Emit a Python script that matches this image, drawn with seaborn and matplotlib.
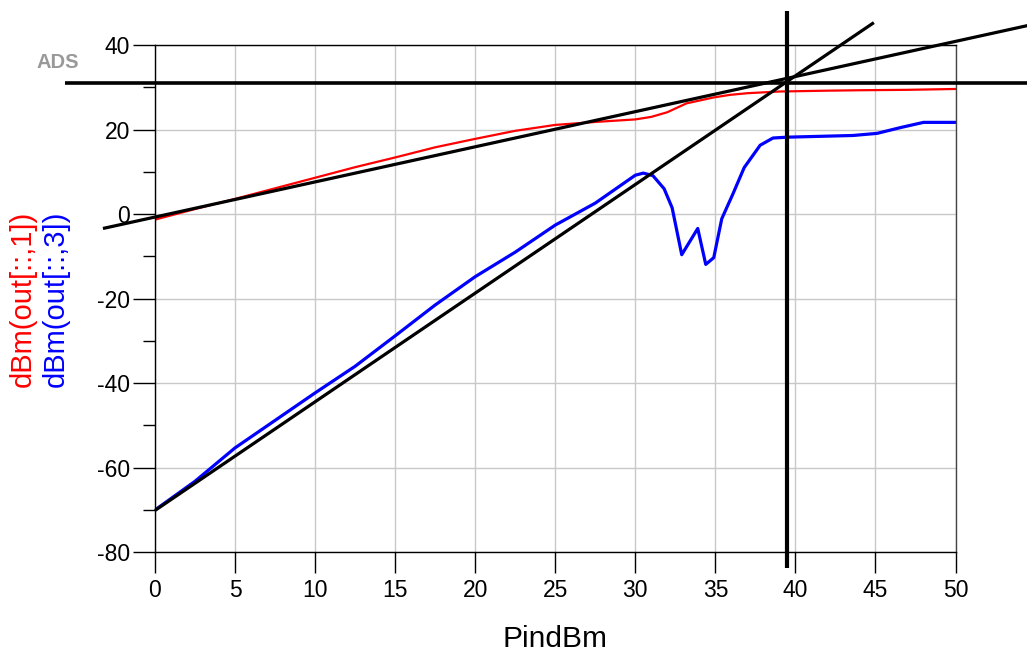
import matplotlib
matplotlib.use("Agg")
import matplotlib.pyplot as plt
from matplotlib.ticker import MultipleLocator
import seaborn as sns
import pandas as pd

# ---- data ----
red_pin = [0, 2.5, 5, 7.5, 10, 12.5, 15, 17.5, 20, 22.5, 25, 27.5, 30, 31, 32,
           33.2, 34.9, 35.9, 37, 39, 42, 44, 47, 50]
red_dbm = [-1.3, 1.2, 3.6, 6.1, 8.6, 11.1, 13.4, 15.8, 17.8, 19.7, 21.1, 21.8, 22.4,
           23.0, 24.1, 26.2, 27.6, 28.2, 28.6, 29.0, 29.2, 29.3, 29.4, 29.6]

blue_pin = [0, 2.5, 5, 7.5, 10, 12.5, 15, 17.5, 20, 22.5, 25, 27.5, 30, 30.5, 31.1,
            31.8, 32.3, 32.9, 33.9, 34.4, 34.9, 35.4, 36.1, 36.8, 37.8, 38.6, 39.5,
            43.6, 45.1, 46.6, 48, 50]
blue_dbm = [-70, -63.2, -55.3, -48.8, -42.3, -36, -28.8, -21.5, -14.8, -9, -2.6, 2.6,
            9.2, 9.7, 9.1, 6.0, 1.5, -9.6, -3.4, -11.9, -10.3, -1.1, 4.8, 11.0, 16.3,
            18.0, 18.2, 18.6, 19.1, 20.5, 21.7, 21.7]

# extrapolated (tangent) lines and markers
fund_line_x = [-3.25, 54.5]
fund_line_y = [-3.4, 44.6]
im3_line_x = [0, 44.9]
im3_line_y = [-70.1, 45.3]
hline_y = 31.0
hline_x = [-5.6, 54.5]
vline_x = 39.5
vline_y = [-83.8, 48.1]

x_ticks = [0, 5, 10, 15, 20, 25, 30, 35, 40, 45, 50]
y_ticks = [-80, -60, -40, -20, 0, 20, 40]

sns.set_theme(style="white")
plt.rcParams['font.family'] = ['Liberation Sans', 'DejaVu Sans']
plt.rcParams['axes.unicode_minus'] = False

fig = plt.figure(figsize=(10.27, 6.59), dpi=100)
ax = fig.add_axes([0.1509, 0.1619, 0.9304 - 0.1509, 0.9317 - 0.1619])

df_red = pd.DataFrame({"PindBm": red_pin, "val": red_dbm})
df_blue = pd.DataFrame({"PindBm": blue_pin, "val": blue_dbm})

sns.lineplot(data=df_red, x="PindBm", y="val", color="#ff0000", linewidth=1.6,
             ax=ax, estimator=None, sort=False)
sns.lineplot(data=df_blue, x="PindBm", y="val", color="#0000ff", linewidth=2.3,
             ax=ax, estimator=None, sort=False)

ax.plot(fund_line_x, fund_line_y, color="black", linewidth=2.3, clip_on=False,
        solid_capstyle="butt", zorder=4)
ax.plot(im3_line_x, im3_line_y, color="black", linewidth=2.3, clip_on=False,
        solid_capstyle="butt", zorder=4)
ax.plot(hline_x, [hline_y, hline_y], color="black", linewidth=2.6, clip_on=False,
        solid_capstyle="butt", zorder=4)
ax.plot([vline_x, vline_x], vline_y, color="black", linewidth=3.0, clip_on=False,
        solid_capstyle="butt", zorder=4)

ax.set_xlim(0, 50)
ax.set_ylim(-80, 40)
ax.set_xticks(x_ticks)
ax.set_yticks(y_ticks)
ax.yaxis.set_minor_locator(MultipleLocator(10))

ax.grid(True, which="major", color="#c8c8c8", linewidth=1.0)
ax.set_axisbelow(True)

for side in ["left", "bottom", "top"]:
    ax.spines[side].set_color("black")
    ax.spines[side].set_linewidth(1.0)
ax.spines["right"].set_color("#444444")
ax.spines["right"].set_linewidth(1.0)

ax.tick_params(axis="y", which="major", direction="out", length=16, width=1,
               color="black", pad=2, labelsize=16.5, labelcolor="black", left=True)
ax.tick_params(axis="y", which="minor", direction="out", length=8.5, width=1,
               color="black", left=True)
ax.tick_params(axis="x", which="major", direction="out", length=15, width=1,
               color="black", pad=4, labelsize=16.5, labelcolor="black", bottom=True)

ax.set_xlabel("PindBm", fontsize=21.5, labelpad=17, color="black")
ax.set_ylabel("")

fig.text(23 / 1027, 1 - 299 / 659, "dBm(out[::,1])", rotation=90, ha="center",
         va="center", fontsize=21, color="#ff0000")
fig.text(56 / 1027, 1 - 299 / 659, "dBm(out[::,3])", rotation=90, ha="center",
         va="center", fontsize=21, color="#0000ff")
fig.text(58 / 1027, 1 - 62 / 659, "ADS", ha="center", va="center", fontsize=14.5,
         color="#999999", fontweight="bold")

fig.savefig("out.png", dpi=100)
